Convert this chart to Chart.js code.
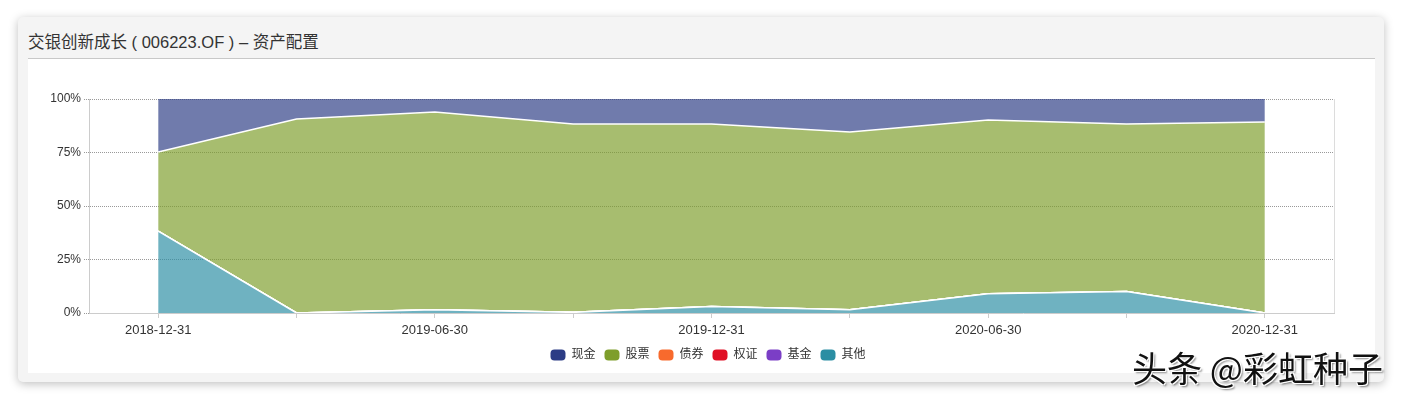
<!DOCTYPE html>
<html>
<head>
<meta charset="utf-8">
<script src="https://cdn.jsdelivr.net/npm/chart.js@4.4.0/dist/chart.umd.min.js"></script>
<style>
  html, body { margin: 0; padding: 0; background: #ffffff; width: 1402px; height: 399px; overflow: hidden; font-family: "Helvetica Neue", Arial, "Noto Sans CJK SC", sans-serif; }
  #card { position: absolute; left: 18px; top: 17px; width: 1366px; height: 365px; background: #f4f4f4; border-radius: 5px; box-shadow: 0 2px 10px rgba(0,0,0,0.25); }
  #title { position: absolute; left: 10px; top: 15px; font-size: 16.5px; line-height: 20px; color: #333; white-space: nowrap; }
  #sep { position: absolute; left: 10px; top: 41px; width: 1347px; height: 1px; background: #c8c8c8; }
  #panel { position: absolute; left: 10px; top: 42px; width: 1347px; height: 314px; background: #fff; }
  #wm { position: absolute; left: 1132px; top: 346px; font-size: 35px; line-height: 42px; color: #111; font-family: "Noto Sans CJK SC", sans-serif; white-space: nowrap;
        text-shadow: 1px 1px 0 #fff, -1px -1px 0 #fff, 1px -1px 0 #fff, -1px 1px 0 #fff, 2px 2px 2px rgba(0,0,0,0.45); }
</style>
</head>
<body>
<div id="card">
  <div id="title">交银创新成长 ( 006223.OF ) – 资产配置</div>
  <div id="sep"></div>
  <div id="panel"><canvas id="c" width="1347" height="314"></canvas></div>
</div>
<div id="wm">头条 @彩虹种子</div>
<script>
const categories = ['2018-12-31','2019-03-31','2019-06-30','2019-09-30','2019-12-31','2020-03-31','2020-06-30','2020-09-30','2020-12-31'];
const cash    = [24.8, 9.3, 6.1, 11.7, 11.7, 15.4, 9.8, 11.7, 10.7];
const stock   = [36.9, 90.7, 92.4, 88.0, 85.3, 83.1, 81.2, 78.3, 89.3];
const bond    = [0, 0, 0, 0, 0, 0, 0, 0, 0];
const warrant = [0, 0, 0, 0, 0, 0, 0, 0, 0];
const fund    = [0, 0, 0, 0, 0, 0, 0, 0, 0];
const other   = [38.3, 0, 1.5, 0.3, 3.0, 1.5, 9.0, 10.0, 0];
const yTicks  = [0, 25, 50, 75, 100];

const seriesNames  = ['现金','股票','债券','权证','基金','其他'];
const seriesData   = [cash, stock, bond, warrant, fund, other];
const solidColors  = ['#2c3c85','#7e9e2b','#f86a2d','#e01025','#7b3ec6','#2b8ea3'];
const fillColors   = ['rgba(44,60,133,0.68)','rgba(126,158,43,0.68)','rgba(248,106,45,0.68)','rgba(224,16,37,0.68)','rgba(123,62,198,0.68)','rgba(43,142,163,0.68)'];

// stack bottom-up: 其他 first, 现金 last (legend reversed)
const datasets = [];
for (let i = seriesNames.length - 1; i >= 0; i--) {
  datasets.push({
    label: seriesNames[i],
    data: seriesData[i],
    backgroundColor: fillColors[i],
    borderColor: '#ffffff',
    borderWidth: i === 0 ? 0 : 1.5,
    pointRadius: 0,
    pointHoverRadius: 0,
    tension: 0,
    fill: datasets.length === 0 ? 'origin' : '-1'
  });
}

const rightBorder = {
  id: 'rightBorder',
  afterDraw(chart) {
    const a = chart.chartArea, ctx = chart.ctx;
    ctx.save();
    ctx.strokeStyle = '#dcdcdc';
    ctx.lineWidth = 1;
    ctx.beginPath();
    ctx.moveTo(Math.round(a.right) + 0.5, a.top);
    ctx.lineTo(Math.round(a.right) + 0.5, a.bottom);
    ctx.stroke();
    ctx.restore();
  }
};

const legendShift = {
  id: 'legendShift',
  afterLayout(chart) {
    if (chart.legend) { chart.legend.left += 27; chart.legend.right += 27; }
  }
};

const FONT = { family: '"Helvetica Neue", Arial, "Noto Sans CJK SC", sans-serif', size: 12 };
const XFONT = { family: '"Helvetica Neue", Arial, "Noto Sans CJK SC", sans-serif', size: 13 };

new Chart(document.getElementById('c'), {
  type: 'line',
  data: { labels: categories, datasets },
  options: {
    responsive: false,
    animation: false,
    layout: { padding: { left: 0, right: 41, top: 40, bottom: 2 } },
    plugins: {
      tooltip: { enabled: false },
      legend: {
        position: 'bottom',
        reverse: true,
        labels: {
          font: FONT,
          color: '#333',
          boxWidth: 15,
          boxHeight: 11,
          padding: 9,
          useBorderRadius: true,
          borderRadius: 4,
          generateLabels(chart) {
            const items = Chart.defaults.plugins.legend.labels.generateLabels(chart);
            items.forEach(it => {
              const idx = seriesNames.indexOf(it.text);
              it.fillStyle = solidColors[idx];
              it.strokeStyle = solidColors[idx];
              it.lineWidth = 0;
            });
            return items;
          }
        }
      }
    },
    scales: {
      x: {
        offset: true,
        grid: { offset: false, drawOnChartArea: false, drawTicks: true, tickLength: 5, color: '#cccccc' },
        border: { display: true, color: '#cccccc' },
        ticks: {
          autoSkip: false, maxRotation: 0, color: '#333', font: XFONT, padding: 5,
          callback(v, i) { return i % 2 === 0 ? categories[i] : ''; }
        },
        afterFit(s) { s.height = 27; }
      },
      y: {
        stacked: true,
        min: 0, max: 100,
        afterBuildTicks(s) { s.ticks = yTicks.map(v => ({ value: v })); },
        grid: { color: '#999999', tickBorderDash: [1, 1], tickLength: 5 },
        border: { display: true, color: '#cccccc', dash: [1, 1] },
        ticks: { color: '#333', font: FONT, padding: 3, callback(v) { return v + '%'; } },
        afterFit(s) { s.width = 61; }
      }
    }
  },
  plugins: [rightBorder, legendShift]
});
</script>
</body>
</html>
